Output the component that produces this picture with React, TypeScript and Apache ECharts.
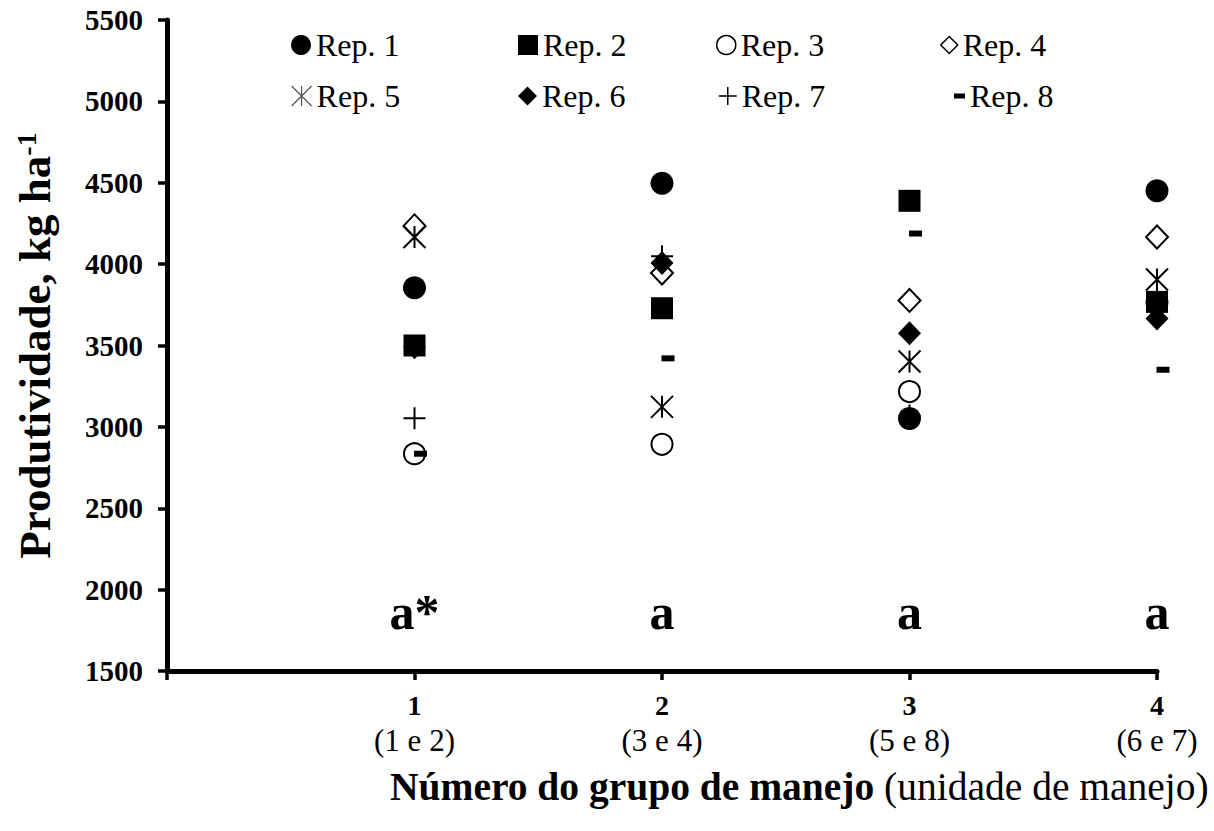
import React, { useEffect, useRef } from "react";
import * as echarts from "echarts";

// ---- data ----
const groups = [1, 2, 3, 4];
const groupUnits = ["(1 e 2)", "(3 e 4)", "(5 e 8)", "(6 e 7)"];
const repNames = ["Rep. 1", "Rep. 2", "Rep. 3", "Rep. 4", "Rep. 5", "Rep. 6", "Rep. 7", "Rep. 8"];
const rep1 = [3855, 4497, 3051, 4451];
const rep2 = [3500, 3729, 4389, 3768];
const rep3 = [2835, 2893, 3217, 3765];
const rep4 = [4235, 3945, 3777, 4167];
const rep5 = [4167, 3123, 3402, 3906];
const rep6 = [3490, 4007, 3575, 3666];
const rep7 = [3053, 4048, 3070, 3790];
const rep8 = [2835, 3421, 4188, 3351];
const letters = ["a*", "a", "a", "a"];
const letterLevel = 1860;
const yMin = 1500;
const yMax = 5500;
const yStep = 500;
const xMin = 0;
const xMax = 4;

const FONT = "'Liberation Serif', 'Times New Roman', serif";
const ASTERISK = "path://M11,0L11,22M0,0L22,22M22,0L0,22";
const PLUS = "path://M11,0L11,22M0,11L22,11";
const CLEAR = "rgba(0,0,0,0)";

const repValues = [rep1, rep2, rep3, rep4, rep5, rep6, rep7, rep8];

const repStyles: any[] = [
  { symbol: "circle", symbolSize: 23, itemStyle: { color: "#000", opacity: 1 } },
  { symbol: "rect", symbolSize: 22, itemStyle: { color: "#000", opacity: 1 } },
  { symbol: "circle", symbolSize: 21, itemStyle: { color: CLEAR, borderColor: "#000", borderWidth: 2, opacity: 1 } },
  { symbol: "diamond", symbolSize: [22, 23], itemStyle: { color: CLEAR, borderColor: "#000", borderWidth: 2, opacity: 1 } },
  { symbol: ASTERISK, symbolSize: 22, itemStyle: { color: CLEAR, borderColor: "#000", borderWidth: 2, opacity: 1 } },
  { symbol: "diamond", symbolSize: [23, 24], itemStyle: { color: "#000", opacity: 1 } },
  { symbol: PLUS, symbolSize: 22, itemStyle: { color: CLEAR, borderColor: "#000", borderWidth: 2, opacity: 1 } },
  { symbol: "rect", symbolSize: [13, 6], symbolOffset: [6, 0], itemStyle: { color: "#000", opacity: 1 } },
];

// legend layout (icon left, row top, icon size)
const legendLayout: any[] = [
  { left: 291, top: 29, w: 20, h: 20, itemStyle: { color: "#000", opacity: 1 } },
  { left: 518, top: 29, w: 20, h: 20, itemStyle: { color: "#000", opacity: 1 } },
  { left: 716, top: 29, w: 19, h: 19, itemStyle: { color: CLEAR, borderColor: "#000", borderWidth: 1.5, opacity: 1 } },
  { left: 940, top: 29, w: 17, h: 17, itemStyle: { color: CLEAR, borderColor: "#000", borderWidth: 1.5, opacity: 1 } },
  { left: 291, top: 80, w: 20, h: 20, itemStyle: { color: CLEAR, borderColor: "#555", borderWidth: 1.2, opacity: 1 } },
  { left: 518, top: 80, w: 19, h: 19, itemStyle: { color: "#000", opacity: 1 } },
  { left: 718, top: 80, w: 18, h: 18, itemStyle: { color: CLEAR, borderColor: "#000", borderWidth: 1.5, opacity: 1 } },
  { left: 954, top: 80, w: 11, h: 5, itemStyle: { color: "#000", opacity: 1 } },
];

export default function App() {
  const ref = useRef<HTMLDivElement>(null);
  useEffect(() => {
    if (!ref.current) return;
    const chart = echarts.init(ref.current, null, { renderer: "svg" });

    const series: any[] = repNames.map((name, i) => ({
      type: "scatter",
      name,
      data: repValues[i].map((v, j) => [groups[j], v]),
      ...repStyles[i],
      emphasis: { disabled: true },
    }));

    series.push({
      type: "scatter",
      name: "letters",
      symbolSize: 0,
      itemStyle: { opacity: 1, color: "#000" },
      data: letters.map((t, j) => [groups[j], letterLevel]),
      label: {
        show: true,
        position: "inside",
        formatter: (p: any) => letters[p.dataIndex],
        fontFamily: FONT,
        fontWeight: "bold",
        fontSize: 50,
        color: "#000",
        opacity: 1,
      },
      emphasis: { disabled: true },
    });

    const legends = repNames.map((name, i) => {
      const l = legendLayout[i];
      return {
        data: [name],
        left: l.left,
        top: l.top,
        padding: 0,
        itemWidth: l.w,
        itemHeight: l.h,
        itemStyle: l.itemStyle,
        selectedMode: false,
        textStyle: { fontFamily: FONT, fontSize: 32, color: "#000" },
      };
    });

    chart.setOption({
      animation: false,
      backgroundColor: "#fff",
      grid: { left: 167, right: 57, top: 20, bottom: 160, containLabel: false },
      legend: legends,
      xAxis: {
        type: "value",
        min: xMin,
        max: xMax,
        interval: 1,
        axisLine: { show: true, lineStyle: { color: "#000", width: 5 } },
        axisTick: { show: true, length: 9, lineStyle: { color: "#000", width: 3.5 } },
        splitLine: { show: false },
        axisLabel: {
          margin: 16,
          showMinLabel: true,
          showMaxLabel: true,
          formatter: (v: number) => {
            const idx = groups.indexOf(v);
            if (idx < 0) return "";
            return `{n|${groups[idx]}}\n{s|${groupUnits[idx]}}`;
          },
          rich: {
            n: { fontFamily: FONT, fontWeight: "bold", fontSize: 28, lineHeight: 36, color: "#000" },
            s: { fontFamily: FONT, fontSize: 31, lineHeight: 34, color: "#000" },
          },
        },
      },
      yAxis: {
        type: "value",
        min: yMin,
        max: yMax,
        interval: yStep,
        name: "Produtividade, kg ha{sup|-1}",
        nameLocation: "middle",
        nameRotate: 90,
        nameGap: 110,
        nameTextStyle: {
          fontFamily: FONT,
          fontWeight: "bold",
          fontSize: 45,
          color: "#000",
          rich: {
            sup: { fontFamily: FONT, fontWeight: "bold", fontSize: 28, verticalAlign: "top", color: "#000" },
          },
        },
        axisLine: { show: true, lineStyle: { color: "#000", width: 5 } },
        axisTick: { show: true, length: 9, lineStyle: { color: "#000", width: 3.5 } },
        splitLine: { show: false },
        axisLabel: {
          margin: 24,
          fontFamily: FONT,
          fontWeight: "bold",
          fontSize: 29,
          color: "#000",
          formatter: (v: number) => String(v),
        },
      },
      graphic: [
        {
          type: "text",
          left: 390,
          top: 767,
          style: {
            text: "{b|Número do grupo de manejo }{r|(unidade de manejo)}",
            rich: {
              b: { fontFamily: FONT, fontWeight: "bold", fontSize: 39.5, fill: "#000" },
              r: { fontFamily: FONT, fontSize: 39.5, fill: "#000" },
            },
          },
        },
      ],
      series,
    });
    return () => chart.dispose();
  }, []);
  return (
    <div
      ref={ref}
      style={{ position: "fixed", left: 0, top: 0, width: 1214, height: 831, background: "#fff" }}
    />
  );
}
